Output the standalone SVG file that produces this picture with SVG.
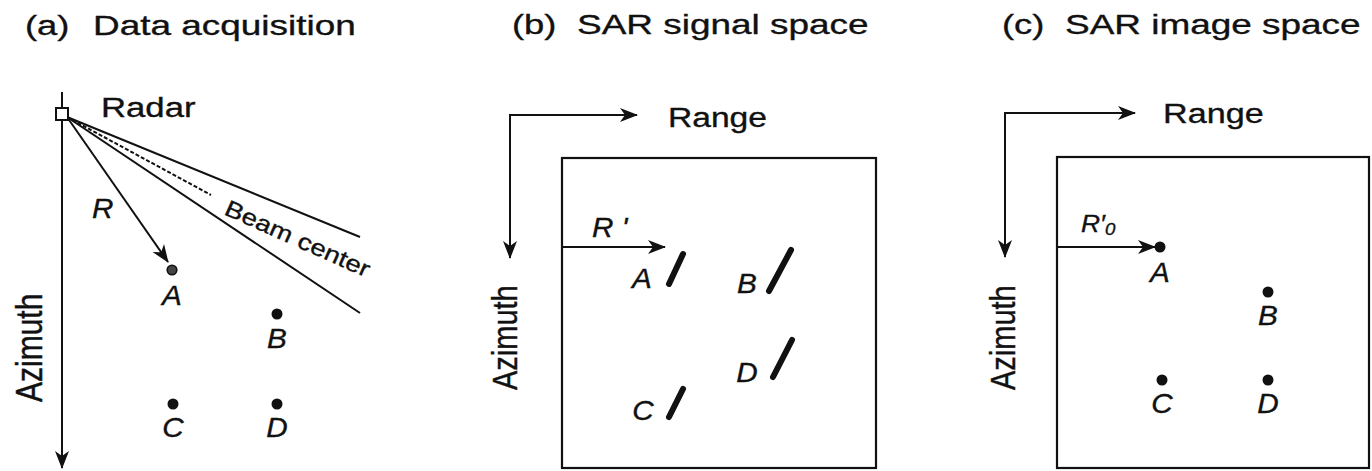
<svg xmlns="http://www.w3.org/2000/svg" width="1372" height="471" viewBox="0 0 1372 471">
  <style>
    .t { font-family: "Liberation Sans", Arial, sans-serif; font-size: 28px; fill: #111; stroke: #111; stroke-width: 0.35; }
    .it { font-style: italic; font-size: 27px; }
    .ln { stroke: #111; stroke-width: 2; fill: none; }
    .box { stroke: #111; stroke-width: 2.2; fill: none; }
    .dot { fill: #111; }
    .sl { stroke: #111; stroke-width: 6; stroke-linecap: round; }
  </style>
  <defs>
    <marker id="ah" markerUnits="userSpaceOnUse" markerWidth="19" markerHeight="16" refX="17" refY="8" orient="auto">
      <path d="M0,1 L18,8 L0,15 L5,8 Z" fill="#111"/>
    </marker>
  </defs>
  <rect width="1372" height="471" fill="#fff"/>

  <!-- titles -->
  <g id="titles">
    <text class="t" transform="translate(25,35) scale(1.3,1)">(a)</text>
    <text class="t" transform="translate(93,35) scale(1.32,1)">Data acquisition</text>
    <text class="t" transform="translate(512,34) scale(1.3,1)">(b)</text>
    <text class="t" transform="translate(577,34) scale(1.32,1)">SAR signal space</text>
    <text class="t" transform="translate(1002,34) scale(1.3,1)">(c)</text>
    <text class="t" transform="translate(1065,34) scale(1.32,1)">SAR image space</text>
  </g>

  <!-- connectors -->
  <g id="connectors">
    <!-- panel a -->
    <line class="ln" x1="62" y1="92" x2="62" y2="468" marker-end="url(#ah)"/>
    <line class="ln" x1="67" y1="117" x2="168" y2="262" marker-end="url(#ah)"/>
    <line class="ln" x1="67" y1="117" x2="360" y2="237"/>
    <line class="ln" x1="67" y1="117" x2="360" y2="313"/>
    <line class="ln" x1="67" y1="117" x2="211" y2="195" stroke-dasharray="4,2" stroke-width="1.6"/>
    <!-- panel b -->
    <path class="ln" d="M510,258 L510,115 L637,115" marker-end="url(#ah)"/>
    <line class="ln" x1="510" y1="120" x2="510" y2="258" marker-end="url(#ah)"/>
    <line class="ln" x1="562" y1="247" x2="665" y2="247" marker-end="url(#ah)"/>
    <!-- panel c -->
    <path class="ln" d="M1005,257 L1005,113 L1135,113" marker-end="url(#ah)"/>
    <line class="ln" x1="1005" y1="118" x2="1005" y2="257" marker-end="url(#ah)"/>
    <line class="ln" x1="1057" y1="247" x2="1155" y2="247" marker-end="url(#ah)"/>
  </g>

  <!-- panel a nodes -->
  <g id="radar">
    <rect x="56" y="108" width="12" height="12" fill="#fff" stroke="#111" stroke-width="2"/>
    <text class="t" transform="translate(101,117) scale(1.24,1)">Radar</text>
  </g>
  <g id="a-labels">
    <text class="t" transform="translate(42,402) scale(1.25,1) rotate(-90)" style="font-size:30px">Azimuth</text>
    <text class="t it" transform="translate(92,218) scale(1.1,1)">R</text>
    <text class="t" transform="translate(223,214) rotate(24) scale(1.2,1)" style="font-size:23px">Beam center</text>
  </g>
  <g id="a-A">
    <circle cx="172" cy="270" r="4.8" fill="#444" stroke="#111" stroke-width="1.6"/>
    <text class="t it" text-anchor="middle" transform="translate(172,305) scale(1.1,1)">A</text>
  </g>
  <g id="a-B">
    <circle class="dot" cx="277" cy="314" r="5.5"/>
    <text class="t it" text-anchor="middle" transform="translate(277,348) scale(1.1,1)">B</text>
  </g>
  <g id="a-C">
    <circle class="dot" cx="173" cy="404" r="5.5"/>
    <text class="t it" text-anchor="middle" transform="translate(173,437) scale(1.1,1)">C</text>
  </g>
  <g id="a-D">
    <circle class="dot" cx="277" cy="404" r="5.5"/>
    <text class="t it" text-anchor="middle" transform="translate(277,437) scale(1.1,1)">D</text>
  </g>

  <!-- panel b nodes -->
  <g id="b-frame">
    <rect class="box" x="562" y="158" width="314" height="310"/>
    <text class="t" transform="translate(668,127) scale(1.2,1)">Range</text>
    <text class="t" transform="translate(517,390) scale(1.2,1) rotate(-90)" style="font-size:29px">Azimuth</text>
    <text class="t it" transform="translate(592,237) scale(1.1,1)">R '</text>
  </g>
  <g id="b-A">
    <line class="sl" x1="683" y1="254" x2="669" y2="284"/>
    <text class="t it" text-anchor="middle" transform="translate(642,288) scale(1.1,1)">A</text>
  </g>
  <g id="b-B">
    <line class="sl" x1="791" y1="250" x2="769" y2="291"/>
    <text class="t it" text-anchor="middle" transform="translate(747,293) scale(1.1,1)">B</text>
  </g>
  <g id="b-C">
    <line class="sl" x1="683" y1="389" x2="669" y2="417"/>
    <text class="t it" text-anchor="middle" transform="translate(643,420) scale(1.1,1)">C</text>
  </g>
  <g id="b-D">
    <line class="sl" x1="792" y1="340" x2="773" y2="377"/>
    <text class="t it" text-anchor="middle" transform="translate(747,382) scale(1.1,1)">D</text>
  </g>

  <!-- panel c nodes -->
  <g id="c-frame">
    <rect class="box" x="1057" y="157" width="312" height="311"/>
    <text class="t" transform="translate(1163,123) scale(1.22,1)">Range</text>
    <text class="t" transform="translate(1015,390) scale(1.2,1) rotate(-90)" style="font-size:29px">Azimuth</text>
    <text class="t it" transform="translate(1081,232) scale(1.1,1)" style="font-size:24px">R′<tspan style="font-size:17px" dy="3">0</tspan></text>
  </g>
  <g id="c-A">
    <circle class="dot" cx="1160" cy="247" r="5.5"/>
    <text class="t it" text-anchor="middle" transform="translate(1160,282) scale(1.1,1)">A</text>
  </g>
  <g id="c-B">
    <circle class="dot" cx="1268" cy="292" r="5.5"/>
    <text class="t it" text-anchor="middle" transform="translate(1268,325) scale(1.1,1)">B</text>
  </g>
  <g id="c-C">
    <circle class="dot" cx="1162" cy="380" r="5.5"/>
    <text class="t it" text-anchor="middle" transform="translate(1162,413) scale(1.1,1)">C</text>
  </g>
  <g id="c-D">
    <circle class="dot" cx="1268" cy="380" r="5.5"/>
    <text class="t it" text-anchor="middle" transform="translate(1268,413) scale(1.1,1)">D</text>
  </g>
</svg>
